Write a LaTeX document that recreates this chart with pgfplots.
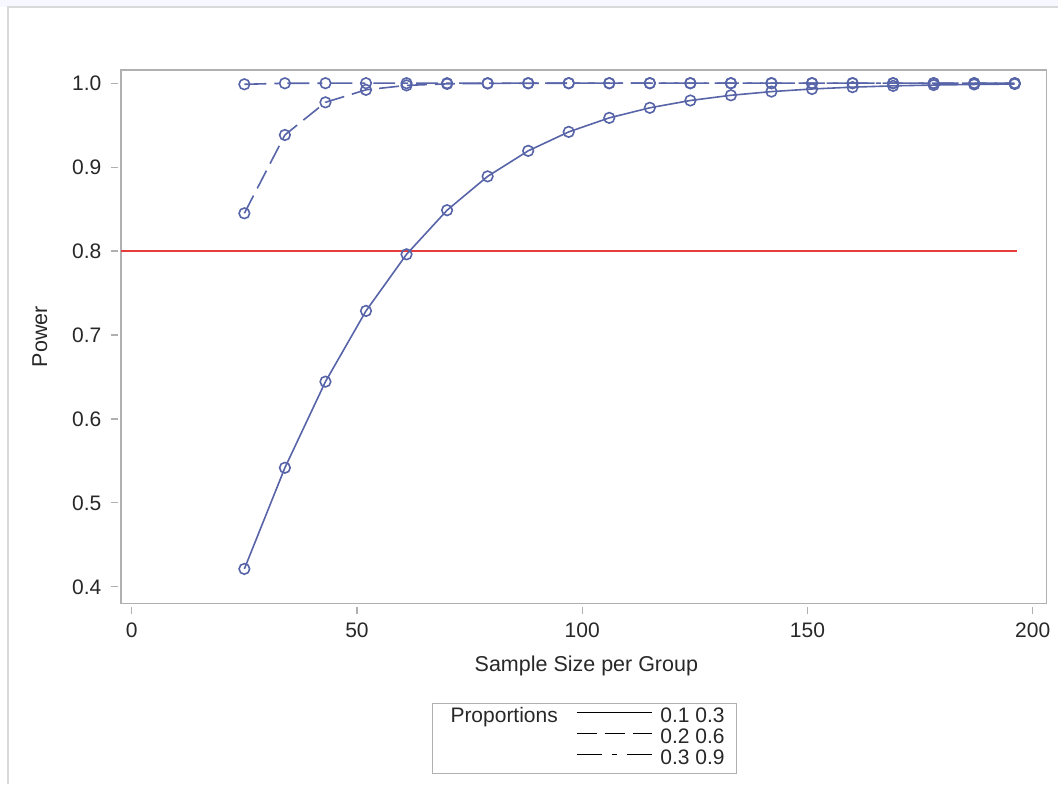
\documentclass[border=0pt]{standalone}
\usepackage{pgfplots}
\pgfplotsset{compat=1.18}
\usepackage{fontspec}
\setmainfont{Liberation Sans}
\definecolor{sasblue}{RGB}{88,100,168}
\definecolor{sasred}{RGB}{230,60,60}
\definecolor{framegray}{RGB}{176,176,176}
\definecolor{txt}{RGB}{40,40,40}
\begin{document}
\begin{tikzpicture}[x=1pt,y=1pt]
\fill[white] (0,0) rectangle (1059,785);
\fill[blue!3] (0,778) rectangle (1059,785);
\draw[black!15, line width=1.5pt] (8,0) -- (8,778) -- (1059,778);
\begin{axis}[
  at={(121pt,181pt)}, anchor=south west,
  width=926pt, height=534pt, scale only axis,
  xmin=-2.4, xmax=203, ymin=0.380, ymax=1.0158,
  xtick={0,50,100,150,200}, ytick={0.4,0.5,0.6,0.7,0.8,0.9,1.0},
  tick pos=left, tick align=outside, major tick length=7pt,
  axis line style={framegray, line width=1.2pt},
  tick style={framegray, line width=1.2pt},
  xtick style={yshift=-3pt}, ytick style={xshift=-3pt},
  ticklabel style={font=\fontsize{21}{24}\selectfont, text=txt},
  xticklabel style={yshift=-9pt},
  yticklabel style={xshift=-9pt},
  /pgf/number format/assume math mode=true,
  yticklabel style={/pgf/number format/.cd, fixed, fixed zerofill, precision=1},
  xlabel={Sample Size per Group}, ylabel={Power},
  label style={font=\fontsize{21.5}{24}\selectfont, text=txt},
  xlabel style={at={(axis description cs:0.503,-0.1166)}, anchor=center},
  ylabel style={at={(axis description cs:-0.0875,0.5)}, anchor=center},
  legend style={at={(axis description cs:0.501,-0.253)}, anchor=center,
    draw=framegray, line width=1pt, font=\fontsize{21}{22}\selectfont, text=txt,
    legend columns=2, row sep=3pt, inner xsep=10pt, inner ysep=5pt,
    nodes={inner ysep=0pt, text height=14pt, text depth=4pt},
    /tikz/every odd column/.append style={column sep=6pt},
    /tikz/every even column/.append style={column sep=16pt}},
  legend cell align=left,
  legend image code/.code={\draw[#1] (0pt,5pt) -- (75pt,5pt);},
]
\addplot[draw=sasred, color=sasred, line width=1.2pt, forget plot] coordinates {(-2.4,0.8) (196.5,0.8)};
\addplot[sasblue, line width=1.6pt, mark=o, mark size=5.3pt, mark options={solid}, forget plot] coordinates {
(25,0.4213) (34,0.5418) (43,0.6444) (52,0.7287) (61,0.7961) (70,0.8487) (79,0.8890) (88,0.9194) (97,0.9420) (106,0.9587) (115,0.9707) (124,0.9794) (133,0.9856) (142,0.9900) (151,0.9931) (160,0.9953) (169,0.9968) (178,0.9978) (187,0.9985) (196,0.9990)};
\addplot[sasblue, line width=1.6pt, dash pattern=on 20pt off 8pt, mark=o, mark size=5.3pt, mark options={solid}, forget plot] coordinates {
(25,0.8450) (34,0.9383) (43,0.9772) (52,0.9921) (61,0.9974) (70,0.9992) (79,0.9997) (88,0.9999) (97,1.0) (106,1.0) (115,1.0) (124,1.0) (133,1.0) (142,1.0) (151,1.0) (160,1.0) (169,1.0) (178,1.0) (187,1.0) (196,1.0)};
\addplot[sasblue, line width=1.6pt, dash pattern=on 22pt off 8pt on 5pt off 8pt, mark=o, mark size=5.3pt, mark options={solid}, forget plot] coordinates {
(25,0.9987) (34,0.9999) (43,1.0) (52,1.0) (61,1.0) (70,1.0) (79,1.0) (88,1.0) (97,1.0) (106,1.0) (115,1.0) (124,1.0) (133,1.0) (142,1.0) (151,1.0) (160,1.0) (169,1.0) (178,1.0) (187,1.0) (196,1.0)};
\addlegendimage{empty legend}
\addlegendentry{Proportions}
\addlegendimage{black, line width=1.6pt, solid}
\addlegendentry{0.1 0.3}
\addlegendimage{empty legend}
\addlegendentry{}
\addlegendimage{black, line width=1.6pt, dash pattern=on 20pt off 8pt}
\addlegendentry{0.2 0.6}
\addlegendimage{empty legend}
\addlegendentry{}
\addlegendimage{black, line width=1.6pt, dash pattern=on 25pt off 10pt on 5pt off 10pt}
\addlegendentry{0.3 0.9}
\end{axis}
\end{tikzpicture}
\end{document}
